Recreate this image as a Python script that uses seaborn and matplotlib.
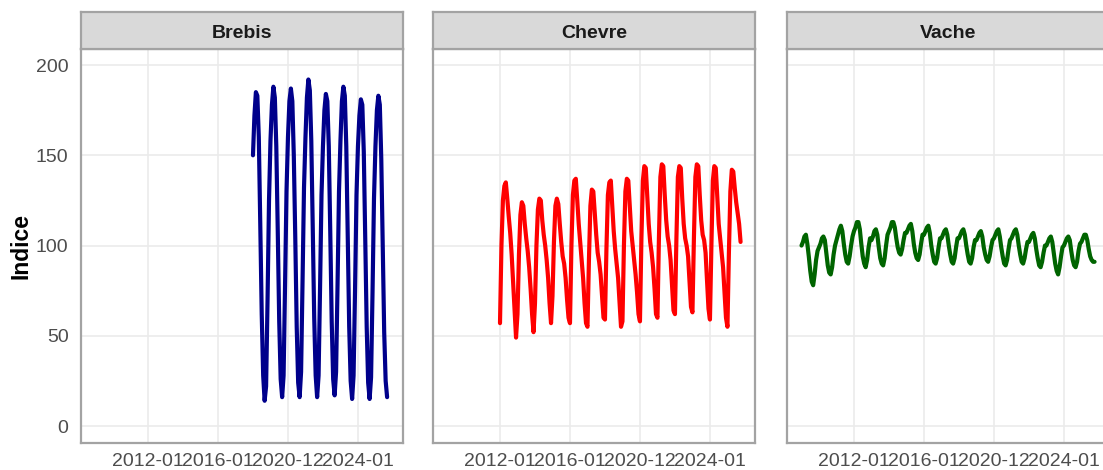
import numpy as np
import pandas as pd
import matplotlib
matplotlib.use("Agg")
import matplotlib.pyplot as plt
import seaborn as sns

# ---------------- data ----------------
categories = ["Brebis", "Chevre", "Vache"]
line_colors = ["#00008B", "#FF0000", "#006400"]
start_months = ["2018-01", "2012-01", "2009-01"]

brebis = [
    150, 172, 185, 183, 160, 112, 62, 28, 14, 22, 70, 125,
    158, 178, 188, 182, 155, 108, 58, 26, 16, 28, 78, 130,
    160, 180, 187, 180, 150, 105, 55, 24, 16, 30, 80, 132,
    160, 182, 192, 186, 158, 110, 60, 28, 16, 28, 76, 128,
    155, 175, 184, 180, 155, 108, 58, 26, 17, 30, 78, 130,
    158, 180, 188, 183, 155, 105, 55, 25, 15, 28, 75, 128,
    155, 172, 181, 178, 152, 104, 55, 24, 15, 27, 74, 126,
    155, 175, 183, 178, 148, 100, 52, 25, 16,
]
chevre = [
    57, 100, 125, 133, 135, 126, 116, 107, 95, 80, 65, 49,
    62, 95, 117, 124, 122, 112, 104, 97, 88, 76, 62, 52,
    68, 100, 120, 126, 125, 114, 106, 100, 92, 82, 68, 57,
    72, 102, 122, 126, 123, 112, 102, 94, 90, 82, 70, 60,
    57, 100, 128, 136, 137, 125, 112, 102, 92, 82, 68, 57,
    55, 92, 122, 131, 130, 118, 106, 96, 91, 84, 72, 60,
    59, 98, 128, 135, 136, 122, 108, 98, 90, 82, 68, 55,
    58, 100, 130, 137, 136, 122, 108, 100, 92, 84, 74, 62,
    58, 104, 136, 144, 143, 128, 112, 102, 96, 88, 76, 62,
    60, 104, 138, 145, 144, 128, 114, 105, 100, 92, 78, 64,
    62, 104, 138, 144, 143, 126, 112, 104, 100, 94, 80, 66,
    63, 104, 138, 145, 144, 128, 114, 106, 103, 96, 80, 65,
    59, 100, 136, 144, 143, 128, 112, 104, 96, 88, 74, 60,
    55, 96, 130, 142, 141, 132, 124, 118, 112, 102,
]
vache = [
    100, 102, 105, 106, 101, 94, 86, 80, 78, 84, 92, 97,
    99, 101, 104, 105, 103, 96, 89, 85, 84, 88, 95, 100,
    103, 106, 109, 111, 108, 101, 95, 91, 90, 94, 100, 105,
    108, 110, 113, 113, 109, 101, 94, 90, 88, 92, 99, 104,
    103, 105, 108, 109, 106, 99, 93, 90, 89, 93, 100, 106,
    108, 110, 113, 113, 110, 104, 99, 96, 95, 98, 103, 107,
    107, 109, 111, 112, 108, 101, 96, 93, 92, 95, 101, 106,
    106, 108, 110, 111, 107, 100, 95, 91, 90, 93, 99, 104,
    104, 106, 108, 109, 106, 100, 95, 91, 90, 93, 99, 104,
    104, 106, 108, 109, 106, 100, 95, 91, 90, 93, 99, 103,
    103, 105, 107, 108, 105, 99, 95, 92, 91, 94, 99, 103,
    104, 106, 108, 109, 105, 99, 94, 90, 89, 92, 98, 103,
    104, 106, 108, 109, 106, 100, 95, 91, 90, 93, 98, 102,
    102, 104, 106, 107, 104, 98, 93, 89, 88, 91, 96, 100,
    100, 102, 104, 105, 102, 96, 90, 86, 84, 88, 94, 99,
    100, 102, 104, 105, 103, 97, 92, 89, 88, 91, 97, 101,
    102, 104, 106, 106, 103, 98, 94, 92, 91, 91,
]
series_values = [brebis, chevre, vache]

tick_dates = ["2012-01", "2016-01", "2020-01", "2024-01"]
tick_labels = ["2012-01", "2016-01", "2020-12", "2024-01"]
y_ticks = [0, 50, 100, 150, 200]
y_label = "Indice"

# ---------------- build long table ----------------
def month_index(d):
    return (d.year - 2012) * 12 + (d.month - 1)

frames = []
for cat, st, vals in zip(categories, start_months, series_values):
    dates = pd.date_range(st, periods=len(vals), freq="MS")
    frames.append(pd.DataFrame({"espece": cat,
                                "t": [month_index(d) for d in dates],
                                "Indice": vals}))
df = pd.concat(frames, ignore_index=True)
tick_pos = [month_index(pd.Timestamp(d)) for d in tick_dates]

# ---------------- style ----------------
sns.set_theme(style="white")
plt.rcParams["font.family"] = ["Liberation Sans", "DejaVu Sans"]

W, H = 1103, 470
fig = plt.figure(figsize=(W / 100, H / 100), dpi=100)
fig.patch.set_facecolor("white")

panel_lefts = [81, 433, 787]
panel_w = 322
plot_top, plot_bot = 49, 443
strip_top = 12
border_col = "#A3A3A3"
grid_col = "#EBEBEB"

def fx(px):
    return px / W

def fy(py):
    return 1 - py / H

for i, (cat, col, left) in enumerate(zip(categories, line_colors, panel_lefts)):
    ax = fig.add_axes([fx(left), fy(plot_bot), fx(panel_w), (plot_bot - plot_top) / H])
    sub = df[df["espece"] == cat]
    sns.lineplot(data=sub, x="t", y="Indice", color=col, linewidth=3.0,
                 ax=ax, legend=False)
    ax.set_xlim(-45.95, 174.9)
    ax.set_ylim(-9.4, 208.9)
    ax.set_xticks(tick_pos)
    ax.set_xticklabels(tick_labels)
    ax.set_yticks(y_ticks)
    ax.grid(True, color=grid_col, linewidth=1.2)
    ax.set_axisbelow(True)
    ax.set_xlabel("")
    ax.set_ylabel("")
    ax.tick_params(axis="both", length=0, labelsize=14, colors="#4D4D4D")
    ax.tick_params(axis="x", pad=7.5)
    ax.tick_params(axis="y", pad=9)
    if i > 0:
        ax.tick_params(axis="y", labelleft=False)
    for s in ax.spines.values():
        s.set_color(border_col)
        s.set_linewidth(1.6)
        s.set_visible(True)

    sax = fig.add_axes([fx(left), fy(plot_top), fx(panel_w), (plot_top - strip_top) / H])
    sax.set_facecolor("#D9D9D9")
    sax.set_xticks([])
    sax.set_yticks([])
    for s in sax.spines.values():
        s.set_color(border_col)
        s.set_linewidth(1.6)
    sax.text(0.5, 0.42, cat, ha="center", va="center", fontsize=14,
             fontweight="bold", color="#1A1A1A", transform=sax.transAxes)

fig.text(fx(21), fy((plot_top + plot_bot) / 2), y_label, rotation=90,
         ha="center", va="center", fontsize=16.5, fontweight="bold", color="black")

fig.savefig("out.png", dpi=100)
